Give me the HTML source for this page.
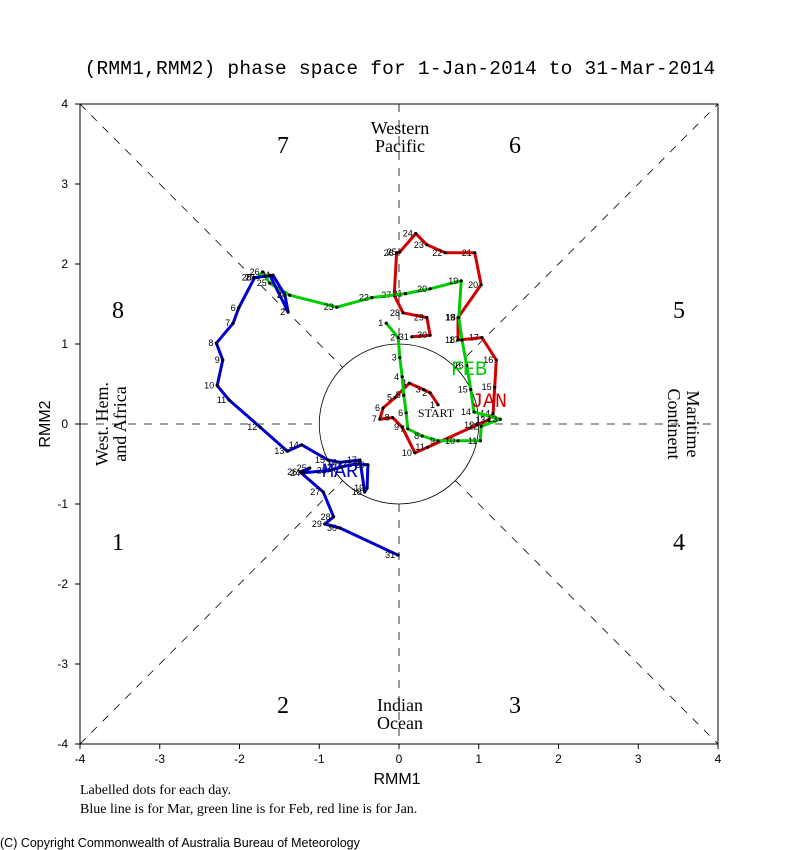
<!DOCTYPE html>
<html><head><meta charset="utf-8"><style>
body{margin:0;background:#fff}
svg{display:block}
</style></head><body>
<svg width="800" height="850" xmlns="http://www.w3.org/2000/svg">
<rect width="800" height="850" fill="#fff"/>
<text x="400" y="74" text-anchor="middle" font-family="Liberation Mono, monospace" font-size="19.5" letter-spacing="0.2">(RMM1,RMM2) phase space for  1-Jan-2014 to 31-Mar-2014</text>
<g id="plot"></g>
<text x="80" y="794" font-family="Liberation Serif, serif" font-size="14">Labelled dots for each day.</text>
<text x="80" y="813" font-family="Liberation Serif, serif" font-size="14">Blue line is for Mar, green line is for Feb, red line is for Jan.</text>
<text x="0" y="847" font-family="Liberation Sans, sans-serif" font-size="12.5">(C) Copyright Commonwealth of Australia Bureau of Meteorology</text>
</svg>
<script>
const ticks=[-4,-3,-2,-1,0,1,2,3,4];
const janX=[0.49,0.39,0.31,0.13,-0.05,-0.20,-0.24,-0.08,0.04,0.20,0.36,0.98,1.12,1.18,1.20,1.22,1.04,0.74,0.74,1.03,0.95,0.58,0.35,0.21,0.01,-0.03,-0.06,0.05,0.35,0.39,0.16];
const janY=[0.24,0.39,0.43,0.51,0.33,0.20,0.06,0.08,-0.04,-0.36,-0.29,-0.01,0.05,0.13,0.46,0.80,1.08,1.05,1.33,1.74,2.14,2.14,2.24,2.38,2.15,2.14,1.61,1.39,1.33,1.11,1.09];
const febX=[-0.16,-0.01,0.01,0.04,0.06,0.09,0.11,0.29,0.49,0.74,1.02,1.03,1.27,0.94,0.90,0.85,0.79,0.75,0.78,0.39,0.08,-0.34,-0.78,-1.37,-1.62,-1.71,-1.77,-1.81];
const febY=[1.26,1.08,0.83,0.59,0.36,0.14,-0.06,-0.15,-0.21,-0.21,-0.21,-0.03,0.06,0.15,0.43,0.73,1.05,1.33,1.79,1.69,1.63,1.58,1.46,1.61,1.76,1.90,1.83,1.83];
const marX=[-1.62,-1.39,-1.43,-1.58,-1.81,-2.01,-2.08,-2.29,-2.21,-2.28,-2.13,-1.74,-1.40,-1.22,-0.89,-0.74,-0.49,-0.43,-0.40,-0.39,-0.55,-0.74,-0.87,-1.20,-1.12,-1.24,-0.95,-0.82,-0.93,-0.74,-0.01];
const marY=[1.86,1.40,1.61,1.86,1.83,1.45,1.26,1.01,0.80,0.48,0.30,-0.04,-0.34,-0.26,-0.45,-0.48,-0.45,-0.85,-0.80,-0.51,-0.50,-0.54,-0.58,-0.61,-0.55,-0.60,-0.85,-1.16,-1.25,-1.30,-1.64];
const NS='http://www.w3.org/2000/svg';
const X0=80,X1=718,Y0=104,Y1=744;
const sx=v=>X0+(v+4)/8*(X1-X0);
const sy=v=>Y1-(v+4)/8*(Y1-Y0);
const g=document.getElementById('plot');
function mk(t,a,p){const e=document.createElementNS(NS,t);for(const k in a)e.setAttribute(k,a[k]);(p||g).appendChild(e);return e;}
let e;
e=mk('rect',{x:X0,y:Y0,width:X1-X0,height:Y1-Y0,fill:'none',stroke:'#000','stroke-width':1});


const dash={stroke:'#000','stroke-width':0.8,'stroke-dasharray':'8,8',fill:'none'};
[[sx(-4),sy(-4),sx(-1/Math.SQRT2),sy(-1/Math.SQRT2)],[sx(1/Math.SQRT2),sy(1/Math.SQRT2),sx(4),sy(4)],
 [sx(-4),sy(4),sx(-1/Math.SQRT2),sy(1/Math.SQRT2)],[sx(1/Math.SQRT2),sy(-1/Math.SQRT2),sx(4),sy(-4)],
 [sx(-4),sy(0),sx(-1),sy(0)],[sx(1),sy(0),sx(4),sy(0)],[sx(0),sy(4),sx(0),sy(1)],[sx(0),sy(-1),sx(0),sy(-4)]].forEach(l=>{
 e=mk('line',Object.assign({x1:l[0],y1:l[1],x2:l[2],y2:l[3]},dash));
 
 
});
e=mk('ellipse',{cx:sx(0),cy:sy(0),rx:sx(1)-sx(0),ry:sy(0)-sy(1),fill:'none',stroke:'#000','stroke-width':0.8});


ticks.forEach(t=>{
 mk('line',{x1:sx(t),y1:Y1,x2:sx(t),y2:Y1+5,stroke:'#000'});
 mk('line',{x1:X0-5,y1:sy(t),x2:X0,y2:sy(t),stroke:'#000'});
 e=mk('text',{x:sx(t),y:Y1+19,'text-anchor':'middle','font-family':'Liberation Sans, sans-serif','font-size':12});
 e.textContent=t;
 
 
 e=mk('text',{x:X0-12,y:sy(t)+4,'text-anchor':'end','font-family':'Liberation Sans, sans-serif','font-size':12});
 e.textContent=t;
 
 
});
e=mk('text',{x:397,y:784,'text-anchor':'middle','font-family':'Liberation Sans, sans-serif','font-size':16});
e.textContent='RMM1';


e=mk('text',{x:50,y:424,'text-anchor':'middle','font-family':'Liberation Sans, sans-serif','font-size':16,transform:'rotate(-90 50 424)'});
e.textContent='RMM2';


[['7',283,153],['6',515,153],['8',118,318],['5',679,318],['1',118,550],['4',679,550],['2',283,713],['3',515,713]].forEach(p=>{
 e=mk('text',{x:p[1],y:p[2],'text-anchor':'middle','font-family':'Liberation Serif, serif','font-size':24});
 e.textContent=p[0];
 
 
});
const ser={'font-family':'Liberation Serif, serif','font-size':18,'text-anchor':'middle'};
[['Western',400,134],['Pacific',400,152],['Indian',400,711],['Ocean',400,729]].forEach(p=>{
 e=mk('text',Object.assign({x:p[1],y:p[2]},ser));
 e.textContent=p[0];
 
 
});
[['West. Hem.',108,424,-90],['and Africa',126,424,-90],['Maritime',687,424,90],['Continent',668,424,90]].forEach(p=>{
 e=mk('text',Object.assign({x:p[1],y:p[2],transform:`rotate(${p[3]} ${p[1]} ${p[2]})`},ser));
 e.textContent=p[0];
 
 
});
function series(xs,ys,col,name){
 const pts=xs.map((x,i)=>sx(x)+','+sy(ys[i])).join(' ');
 e=mk('polyline',{points:pts,fill:'none',stroke:col,'stroke-width':3,'stroke-linejoin':'round'});
 
 
 xs.forEach((x,i)=>{
  e=mk('circle',{cx:sx(x),cy:sy(ys[i]),r:1.6,fill:'#000'});
  
  
  e=mk('text',{x:sx(x)-3,y:sy(ys[i])+3,'text-anchor':'end','font-family':'Liberation Sans, sans-serif','font-size':9});
  e.textContent=i+1;
  
  
 });
}
series(janX,janY,'#d00000','jan');
series(febX,febY,'#00cc00','feb');
series(marX,marY,'#0000cc','mar');
e=mk('text',{x:sx(janX[0])-2,y:sy(janY[0])+12,'font-family':'Liberation Serif, serif','font-size':12,'text-anchor':'middle'});
e.textContent='START';


[['JAN',489,407,'#d00000'],['FEB',469,375,'#00cc00'],['MAR',340,477,'#0000cc']].forEach(p=>{
 e=mk('text',{x:p[1],y:p[2],'text-anchor':'middle','font-family':'Liberation Mono, monospace','font-size':20,fill:p[3]});
 e.textContent=p[0];
 
 
});
</script>
</body></html>
